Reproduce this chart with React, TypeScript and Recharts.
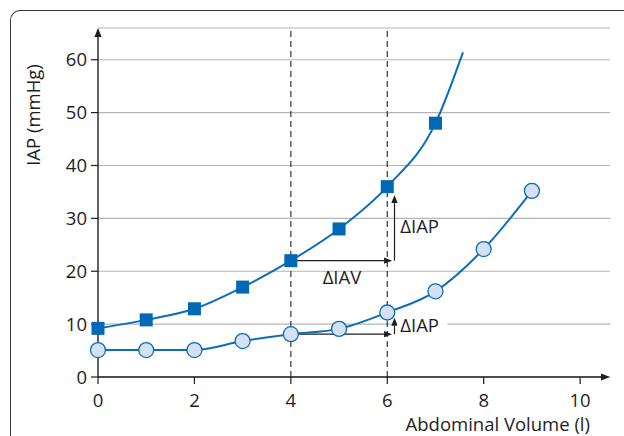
import React from 'react';
import { LineChart, Line, XAxis, YAxis, CartesianGrid, ReferenceLine, ReferenceDot } from 'recharts';

// abdominal volume (l) for each measured point
const volumes = [0, 1, 2, 3, 4, 5, 6, 7, 8, 9];
// upper curve (squares), measured up to 7 l
const iapSquares = [9.2, 10.8, 12.9, 17, 22, 28, 36, 48];
// where the upper fitted curve runs out, beyond the last square
const squaresTailX = 7.57;
const squaresTailY = 61.4;
// lower curve (circles)
const iapCircles = [5.1, 5.1, 5.1, 6.8, 8.1, 9.1, 12.2, 16.2, 24.2, 35.2];

const xTicks = [0, 2, 4, 6, 8, 10];
const yTicks = [0, 10, 20, 30, 40, 50, 60];
const markedVolumes = [4, 6];

const BLUE = '#0A6DB8';
const TEXT = '#1e1e1e';
const FONT = '"Open Sans", sans-serif';
const FS = 18.5;

const squareData = [
  ...iapSquares.map((y, i) => ({ x: volumes[i], y, tail: false })),
  { x: squaresTailX, y: squaresTailY, tail: true },
];
const circleData = iapCircles.map((y, i) => ({ x: volumes[i], y }));

const Square = (props: any) => {
  const { cx, cy, payload, index } = props;
  if (payload.tail) return <g key={`sq-${index}`} />;
  return <rect key={`sq-${index}`} x={cx - 6.5} y={cy - 6.5} width={13} height={13} fill="#0068B4" />;
};

const Circle = (props: any) => {
  const { cx, cy, index } = props;
  return <circle key={`ci-${index}`} cx={cx} cy={cy} r={7.5} fill="#D5E0F2" stroke={BLUE} strokeWidth={1.3} />;
};

// line with a filled arrow head at its end
const Arrow = (props: any) => {
  const { x1, y1, x2, y2 } = props;
  const stroke = TEXT;
  const strokeWidth = props.sw ?? 1.2;
  const head = props.head ?? 8;
  const a = Math.atan2(y2 - y1, x2 - x1);
  const w = head * 0.4;
  const bx = x2 - head * Math.cos(a);
  const by = y2 - head * Math.sin(a);
  const pts = [
    `${x2},${y2}`,
    `${bx + w * Math.sin(a)},${by - w * Math.cos(a)}`,
    `${bx - w * Math.sin(a)},${by + w * Math.cos(a)}`,
  ].join(' ');
  return (
    <g>
      <line x1={x1} y1={y1} x2={bx} y2={by} stroke={stroke} strokeWidth={strokeWidth} />
      <polygon points={pts} fill={stroke} />
    </g>
  );
};

const noteLabel = (text: string, anchor: 'start' | 'middle', bg = false) => (props: any) => {
  const { cx, cy } = props;
  return (
    <g>
      {bg && <rect x={cx - 3} y={cy - 10} width={50} height={20} fill="#fff" />}
      <text x={cx} y={cy} textAnchor={anchor} dominantBaseline="central" fontSize={FS} fontFamily={FONT} fill={TEXT}>
        {text}
      </text>
    </g>
  );
};

const XTitle = (props: any) => {
  const { viewBox } = props;
  return (
    <text x={viewBox.x + viewBox.width - 20} y={viewBox.y + viewBox.height - 5} textAnchor="end" fontSize={FS} fontFamily={FONT} fill={TEXT}>
      Abdominal Volume (l)
    </text>
  );
};

const YTitle = (props: any) => {
  const { viewBox } = props;
  const cx = viewBox.x + 32;
  const cy = viewBox.y + 87;
  return (
    <text x={cx} y={cy} transform={`rotate(-90, ${cx}, ${cy})`} textAnchor="middle" dominantBaseline="central" fontSize={FS} fontFamily={FONT} fill={TEXT}>
      IAP (mmHg)
    </text>
  );
};

export default function App() {
  return (
    <div style={{ position: 'fixed', left: 0, top: 0, width: 624, height: 436, overflow: 'hidden', background: '#fff' }}>
      <div
        style={{
          position: 'absolute',
          left: 10,
          top: 10,
          width: 700,
          height: 500,
          borderTop: '1.5px solid #3a3a3a',
          borderLeft: '1.5px solid #3a3a3a',
          borderTopLeftRadius: 10,
        }}
      />
      <div style={{ position: 'absolute', left: 0, top: 0 }}>
        <LineChart width={624} height={436} data={circleData} margin={{ top: 28, right: 14, left: 0, bottom: 0 }}>
          <CartesianGrid horizontal vertical={false} stroke="#b4b4b4" strokeWidth={1.2} />
          <XAxis
            dataKey="x"
            type="number"
            domain={[0, 10.62]}
            ticks={xTicks}
            height={59}
            axisLine={false}
            tickSize={7}
            tickMargin={10}
            tickLine={{ stroke: TEXT, strokeWidth: 1.2 }}
            tick={{ fontSize: FS, fontFamily: FONT, fill: TEXT }}
            label={<XTitle />}
          />
          <YAxis
            dataKey="y"
            type="number"
            domain={[0, 66]}
            ticks={yTicks}
            width={98}
            axisLine={false}
            tickSize={7}
            tickMargin={4}
            tickLine={{ stroke: TEXT, strokeWidth: 1.2 }}
            tick={{ fontSize: FS, fontFamily: FONT, fill: TEXT }}
            label={<YTitle />}
          />
          {markedVolumes.map((v) => (
            <ReferenceLine key={v} x={v} stroke="#333" strokeWidth={1.2} strokeDasharray="6 4" />
          ))}
          {/* axes with arrow heads */}
          <ReferenceLine segment={[{ x: 0, y: 0 }, { x: 10.62, y: 0 }]} shape={(p: any) => <Arrow {...p} sw={1.4} head={9} />} />
          <ReferenceLine segment={[{ x: 0, y: 0 }, { x: 0, y: 66 }]} shape={(p: any) => <Arrow {...p} sw={1.4} head={9} />} />
          {/* delta arrows */}
          <ReferenceLine segment={[{ x: 4, y: 22 }, { x: 6.1, y: 22 }]} shape={(p: any) => <Arrow {...p} />} />
          <ReferenceLine segment={[{ x: 6.15, y: 22 }, { x: 6.15, y: 34.4 }]} shape={(p: any) => <Arrow {...p} />} />
          <ReferenceLine segment={[{ x: 4, y: 8.1 }, { x: 6.1, y: 8.1 }]} shape={(p: any) => <Arrow {...p} />} />
          <ReferenceLine segment={[{ x: 6.15, y: 8.1 }, { x: 6.15, y: 11.2 }]} shape={(p: any) => <Arrow {...p} />} />
          <Line
            data={circleData}
            dataKey="y"
            type="monotone"
            stroke={BLUE}
            strokeWidth={2}
            dot={Circle}
            activeDot={false}
            isAnimationActive={false}
          />
          <Line
            data={squareData}
            dataKey="y"
            type="monotone"
            stroke={BLUE}
            strokeWidth={2}
            dot={Square}
            activeDot={false}
            isAnimationActive={false}
          />
          <ReferenceDot x={5.06} y={19.1} shape={noteLabel('ΔIAV', 'middle')} />
          <ReferenceDot x={6.27} y={28.6} shape={noteLabel('ΔIAP', 'start')} />
          <ReferenceDot x={6.27} y={9.85} shape={noteLabel('ΔIAP', 'start', true)} />
        </LineChart>
      </div>
    </div>
  );
}
